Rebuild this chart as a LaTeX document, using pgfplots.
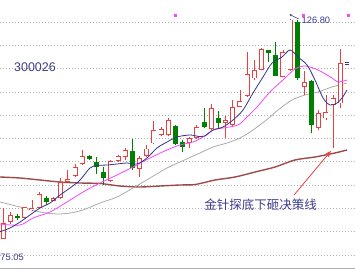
\documentclass[border=0pt]{standalone}
\usepackage{pgfplots}
\pgfplotsset{compat=1.18}
\usepackage{pgfplotstable}
\usetikzlibrary{arrows.meta}
\usepackage{fontspec}
\setmainfont{Liberation Sans}
\newfontfamily\cjk{Noto Sans CJK SC}
\definecolor{candred}{RGB}{236,64,64}
\definecolor{candgreen}{RGB}{0,128,0}
\definecolor{ma5}{RGB}{52,52,140}
\definecolor{ma10}{RGB}{250,70,250}
\definecolor{ma30}{RGB}{170,170,170}
\definecolor{ma60}{RGB}{155,75,75}
\definecolor{txtblue}{RGB}{60,60,140}
\definecolor{gridc}{RGB}{175,175,175}
% rising candles (close > open): index, open, high, low, close
\pgfplotstableread{
i o h l c
0 75.06 82.35 75.05 78.82
1 78.99 81.41 78.70 80.70
3 80.11 82.70 79.99 82.47
4 81.88 84.23 81.64 82.42
5 82.42 86.18 82.35 85.57
7 84.07 84.82 83.88 84.63
8 84.63 89.33 84.46 88.53
9 88.53 91.29 88.46 89.17
10 89.94 92.63 89.75 92.06
11 92.63 95.99 92.46 94.65
15 88.77 93.64 88.58 93.40
16 93.40 94.81 93.17 94.58
17 94.41 96.53 93.64 95.99
19 91.52 94.58 89.64 94.11
20 94.58 97.24 94.46 96.30
21 97.56 102.81 97.40 100.69
22 99.52 101.47 99.28 100.86
23 99.52 103.52 99.28 103.05
26 97.71 99.12 96.39 98.74
27 98.74 101.87 98.58 101.47
29 100.86 106.74 100.69 105.80
31 102.27 103.99 98.74 103.05
32 101.87 107.75 101.75 106.17
33 106.17 110.10 106.03 107.51
34 108.69 119.11 108.53 113.86
35 112.85 117.16 112.45 114.81
36 114.81 119.91 114.69 119.67
39 113.23 119.51 113.09 119.11
40 114.81 126.80 114.64 126.68
42 110.74 114.64 108.81 112.05
44 101.28 105.40 100.69 104.62
45 103.40 108.93 103.05 104.93
46 106.57 108.93 96.39 108.15
47 106.97 119.63 105.98 116.52
}\redc
% falling candles (close < open): index, open, high, low, close
\pgfplotstableread{
i o h l c
2 80.54 80.94 79.52 79.93
6 84.77 85.17 83.05 83.83
12 94.65 94.93 93.64 93.99
13 93.17 94.41 90.34 91.92
14 90.88 92.06 87.76 89.33
18 95.83 98.46 91.29 91.64
24 101.63 101.87 97.17 97.40
25 97.94 98.34 95.59 96.69
28 102.50 105.94 101.09 101.47
30 103.59 105.16 100.86 102.41
37 119.51 119.51 116.76 118.69
38 118.33 121.32 113.28 113.47
41 126.17 126.57 112.57 112.85
43 112.33 112.45 99.92 101.87
}\greenc
\begin{document}
\begin{tikzpicture}
\begin{axis}[
  width=355pt, height=271pt, scale only axis,
  xmin=-0.46, xmax=49.05, ymin=67.53, ymax=131.27,
  axis line style={draw=none},
  xtick=\empty,
  ytick={71.295,76.775,82.255,87.735,93.215,98.695,104.175,109.655,115.135,120.615,126.095},
  yticklabels={},
  major tick length=0pt,
  ymajorgrids,
  major grid style={gridc, line width=0.6pt, dash pattern=on 0.8pt off 2.2pt},
  extra y ticks={68.12},
  extra y tick labels={},
  extra y tick style={grid=major, major grid style={gridc, solid, line width=0.8pt}},
  candle/.style={only marks, mark size=0pt, /pgfplots/error bars/y dir=plus, /pgfplots/error bars/y explicit, /pgfplots/error bars/error mark=none},
]
\addplot[ma60, line width=1.4pt, smooth, tension=0.5] coordinates {
(-0.46,89.64)(2.33,89.40)(5.12,88.93)(7.91,88.46)(10.70,88.23)(13.49,88.11)(16.28,87.52)(19.07,87.29)(21.85,87.52)(24.64,87.76)(26.74,87.87)(29.53,88.93)(32.32,89.64)(35.11,90.81)(37.90,91.99)(40.68,93.64)(43.47,94.34)(46.26,95.29)(47.94,96.00)};
\addplot[ma30, line width=0.8pt, smooth, tension=0.5] coordinates {
(-0.46,83.76)(2.33,82.58)(5.12,81.41)(7.49,80.94)(9.30,81.17)(11.12,81.88)(13.49,83.52)(15.86,84.94)(18.09,87.05)(20.46,89.40)(22.83,91.76)(24.64,93.17)(27.43,95.29)(29.25,96.69)(31.20,97.63)(33.01,98.81)(34.83,100.69)(37.20,103.75)(38.31,105.40)(40.26,107.75)(42.08,108.93)(43.89,109.63)(45.84,110.81)(47.94,111.75)};
% wicks
\addplot[candle, /pgfplots/error bars/error bar style={draw=candred, line width=0.8pt}] table[x=i, y=l, y error expr=\thisrow{h}-\thisrow{l}] {\redc};
\addplot[candle, /pgfplots/error bars/error bar style={draw=candgreen, line width=0.8pt}] table[x=i, y=l, y error expr=\thisrow{h}-\thisrow{l}] {\greenc};
% bodies
\addplot[candle, /pgfplots/error bars/error bar style={draw=candred, line width=5pt}] table[x=i, y=o, y error expr=\thisrow{c}-\thisrow{o}] {\redc};
\addplot[candle, /pgfplots/error bars/error bar style={draw=white, line width=3.4pt}] table[x=i, y expr=\thisrow{o}+0.19, y error expr=\thisrow{c}-\thisrow{o}-0.38] {\redc};
\addplot[candle, /pgfplots/error bars/error bar style={draw=candgreen, line width=5pt}] table[x=i, y=c, y error expr=\thisrow{o}-\thisrow{c}] {\greenc};
% moving averages
\addplot[ma10, line width=0.8pt, smooth, tension=0.5] coordinates {
(-0.46,78.58)(2.33,78.35)(4.14,79.99)(6.51,81.41)(8.88,83.76)(11.12,86.11)(13.49,88.23)(15.86,90.11)(18.09,91.99)(20.46,94.11)(22.83,95.99)(24.64,97.17)(26.46,97.87)(27.85,99.05)(29.25,100.69)(30.64,101.16)(32.73,101.87)(33.99,103.75)(35.38,106.10)(37.20,109.63)(39.29,112.92)(40.68,115.04)(42.08,115.75)(43.89,114.81)(45.84,112.92)(46.68,111.98)(47.94,112.45)};
\addplot[ma5, line width=0.8pt, smooth, tension=0.5] coordinates {
(-0.46,76.77)(0.93,77.64)(2.33,79.05)(3.72,80.70)(5.12,82.35)(6.51,83.52)(7.91,85.40)(9.30,87.05)(10.70,88.93)(12.09,91.76)(13.07,92.34)(14.46,92.46)(15.86,92.70)(17.25,92.93)(18.65,92.70)(20.04,94.11)(21.43,96.46)(22.83,97.87)(24.22,99.05)(26.04,99.52)(27.43,99.12)(28.13,99.28)(29.25,100.69)(30.64,101.40)(32.04,103.05)(33.43,105.40)(34.83,109.40)(36.22,113.16)(37.48,116.45)(38.87,117.86)(39.99,119.51)(41.10,117.86)(42.36,115.98)(43.47,112.45)(44.59,108.22)(45.57,106.57)(46.54,107.04)(47.24,108.22)(47.94,110.10)};
\addplot[only marks, mark=square*, mark size=1.1pt, ma10] coordinates {(23.95,127.74)(41.80,127.74)(48.08,127.74)};
\addplot[ma5, line width=0.6pt] coordinates {(47.7,116.6)(48.2,116.6)};
\addplot[ma5, line width=0.6pt] coordinates {(47.7,116.1)(48.2,116.1)};
\node[text=txtblue, font=\fontsize{12.5}{13}\selectfont] at (axis cs:4.42,115.51) {300026};
\node[text=txtblue, font=\fontsize{9.3}{10}\selectfont] at (axis cs:43.6,126.57) {126.80};
\draw[txtblue, line width=0.5pt, -{Stealth[length=2.5pt,width=2.5pt]}] (axis cs:41.2,126.8) -- (axis cs:39.9,127.9);
\node[text=txtblue, anchor=west, inner xsep=0pt, font=\fontsize{9.3}{10}\selectfont] at (axis cs:-0.42,70.66) {75.05};
\node[text=txtblue, font=\cjk\fontsize{12.5}{13}\selectfont] at (axis cs:35.87,83.05) {金针探底下砸决策线};
\draw[candred, line width=0.8pt, -{Triangle[length=6pt,width=4.5pt]}] (axis cs:40.55,85.4) -- (axis cs:45.7,95.8);
\end{axis}
\pgfresetboundingbox
\useasboundingbox (current axis.south west) rectangle (current axis.north east);
\end{tikzpicture}
\end{document}
